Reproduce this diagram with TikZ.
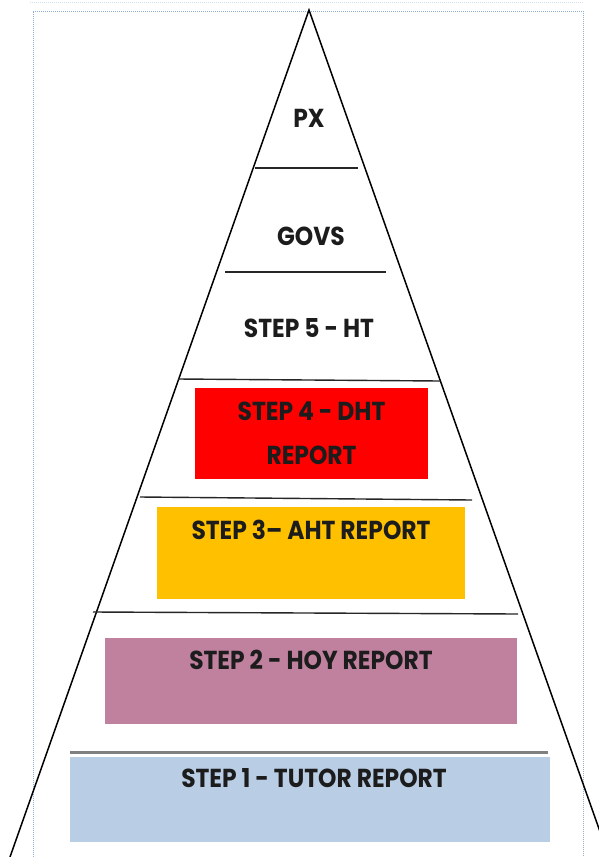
\documentclass[tikz,border=0pt]{standalone}
\usepackage{fontspec}
\usetikzlibrary{positioning}
\newfontfamily\gothic[FakeStretch=0.9]{Poppins}

\definecolor{framecol}{HTML}{8FAED0}
\definecolor{dhtred}{HTML}{FF0000}
\definecolor{ahtorange}{HTML}{FFC000}
\definecolor{hoymauve}{HTML}{C0819F}
\definecolor{tutorblue}{HTML}{B9CDE5}
\definecolor{inkcol}{HTML}{1C1C1C}

\tikzset{
  tier/.style={draw=none, inner sep=0pt, outer sep=0pt},
  tiertext/.style={inner sep=0pt, text=inkcol, font=\gothic\bfseries\fontsize{26}{30}\selectfont},
  divider/.style={line width=1.4pt, draw=black!85},
}

\begin{document}
\begin{tikzpicture}[x=1pt, y=-1pt]
  \useasboundingbox (0,0) rectangle (599,857);
  \fill[white] (0,0) rectangle (599,857);

  % frame of the page
  \draw[framecol, line width=1pt, dash pattern=on 1pt off 1pt]
    (33,857) |- (583,11) -- (583,857);
  \draw[framecol!40, line width=1pt, dash pattern=on 1pt off 1pt] (30,2) -- (583,2);

  % pyramid outline
  \begin{scope}
    \clip (0,0) rectangle (599,857);
    \coordinate (apex) at (309,10);
    \coordinate (baseL) at (10,857);
    \coordinate (baseR) at (609,857);
    \draw[line width=1.5pt] (baseL) -- (apex) -- (baseR);
  \end{scope}

  % levels
  \draw[divider] (255,168) -- (358,168);
  \draw[divider] (225,272) -- (386,272);
  \draw[divider] (178,379) -- (440,381);
  \draw[divider] (140,497) -- (472,500);
  \draw[divider] (93,612) -- (518,614);
  \draw[line width=3pt, draw=black!50] (70,752) -- (548,752);

  % coloured boxes
  \node (dht) [tier, fill=dhtred, minimum width=233pt, minimum height=91pt] at (311.5,433.5) {};
  \node (aht) [tier, fill=ahtorange, minimum width=308pt, minimum height=92pt] at (311,553) {};
  \node (hoy) [tier, fill=hoymauve, minimum width=412pt, minimum height=86pt] at (311,681) {};
  \node (tutor) [tier, fill=tutorblue, minimum width=480pt, minimum height=85pt] at (310,799.5) {};

  % labels
  \node (px) [tiertext] at (309,118) {PX};
  \node (govs) [tiertext] at (311,236) {GOVS};
  \node (ht) [tiertext] at (309,328.5) {STEP 5 - HT};
  \node (dhtA) [tiertext, below=14pt of dht.north] {STEP 4 - DHT};
  \node (dhtB) [tiertext, below=58pt of dht.north] {REPORT};
  \node (ahtlbl) [tiertext, below=13pt of aht.north] {STEP 3– AHT REPORT};
  \node (hoylbl) [tiertext, below=12pt of hoy.north] {STEP 2 - HOY REPORT};
  \node (tutorlbl) [tiertext, below=11pt of tutor.north, xshift=4pt] {STEP 1 - TUTOR REPORT};
\end{tikzpicture}
\end{document}
